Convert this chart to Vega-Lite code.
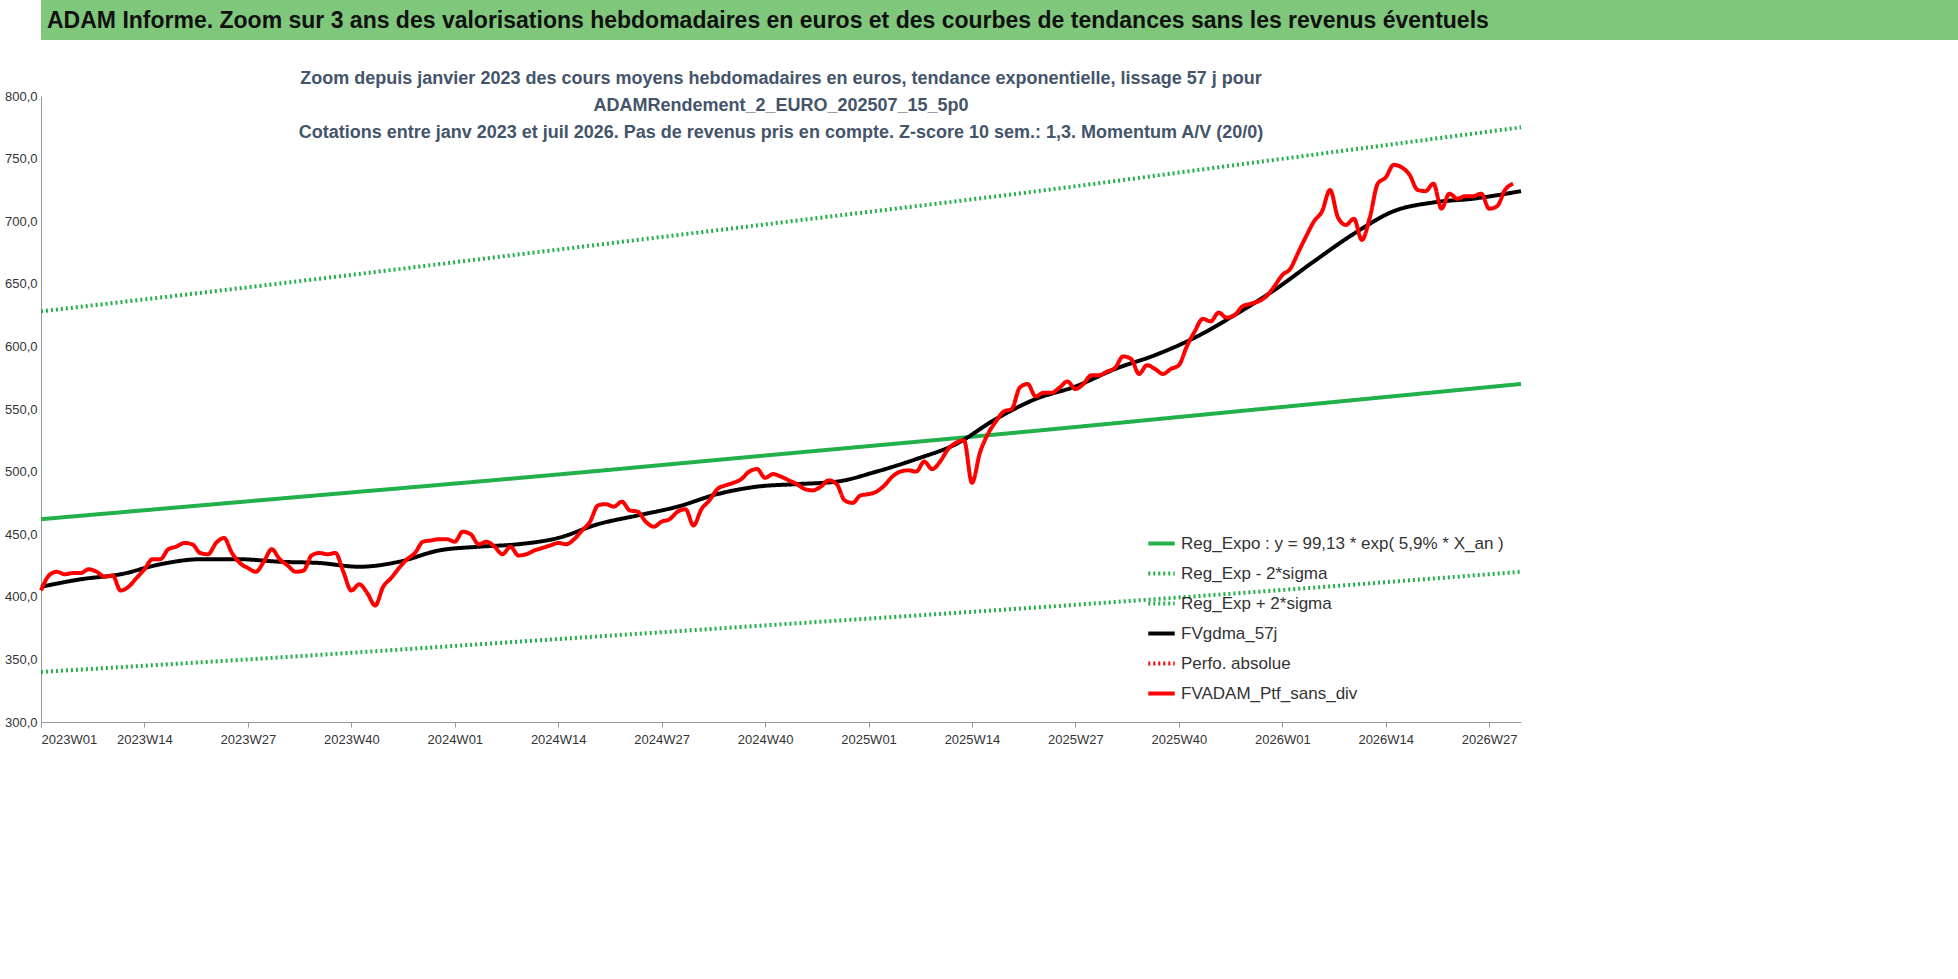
{
"$schema":"https://vega.github.io/schema/vega-lite/v6.json",
"background":"white",
"padding":{"left":4,"top":0,"right":10,"bottom":5},
"config":{"font":"Liberation Sans Narrow, Liberation Sans","view":{"stroke":null},"concat":{"spacing":30}},
"vconcat":[
{"width":1920,"height":40,"view":{"fill":"#7fc77a","stroke":null},
 "data":{"values":[{"t":"ADAM Informe. Zoom sur 3 ans des valorisations hebdomadaires en euros et des courbes de tendances sans les revenus éventuels"}]},
 "mark":{"type":"text","align":"left","baseline":"middle","fontSize":23,"fontWeight":"bold","color":"#111"},
 "encoding":{"text":{"field":"t"},"x":{"value":6},"y":{"value":21}}},
{"width":1480,"height":626,
 "title":{"text":["Zoom depuis janvier 2023 des cours moyens hebdomadaires  en euros, tendance exponentielle, lissage 57 j pour","ADAMRendement_2_EURO_202507_15_5p0","Cotations  entre janv 2023 et juil 2026. Pas de revenus pris en compte. Z-score 10 sem.: 1,3. Momentum  A/V (20/0)"],"fontSize":18,"fontWeight":"bold","color":"#44546a","lineHeight":27,"offset":-52,"anchor":"middle"},
 "data":{"values":[
 {"w":0,"s":"Reg_Expo : y = 99,13 * exp( 5,9% *  X_an )","v":462},{"w":31,"s":"Reg_Expo : y = 99,13 * exp( 5,9% *  X_an )","v":479},{"w":62,"s":"Reg_Expo : y = 99,13 * exp( 5,9% *  X_an )","v":496},{"w":93,"s":"Reg_Expo : y = 99,13 * exp( 5,9% *  X_an )","v":514},{"w":124,"s":"Reg_Expo : y = 99,13 * exp( 5,9% *  X_an )","v":532},{"w":155,"s":"Reg_Expo : y = 99,13 * exp( 5,9% *  X_an )","v":551},{"w":186,"s":"Reg_Expo : y = 99,13 * exp( 5,9% *  X_an )","v":570},
 {"w":0,"s":"Reg_Exp - 2*sigma","v":340},{"w":31,"s":"Reg_Exp - 2*sigma","v":352},{"w":62,"s":"Reg_Exp - 2*sigma","v":365},{"w":93,"s":"Reg_Exp - 2*sigma","v":378},{"w":124,"s":"Reg_Exp - 2*sigma","v":391},{"w":155,"s":"Reg_Exp - 2*sigma","v":405},{"w":186,"s":"Reg_Exp - 2*sigma","v":420},
 {"w":0,"s":"Reg_Exp + 2*sigma","v":628},{"w":31,"s":"Reg_Exp + 2*sigma","v":651},{"w":62,"s":"Reg_Exp + 2*sigma","v":675},{"w":93,"s":"Reg_Exp + 2*sigma","v":699},{"w":124,"s":"Reg_Exp + 2*sigma","v":723},{"w":155,"s":"Reg_Exp + 2*sigma","v":749},{"w":186,"s":"Reg_Exp + 2*sigma","v":775},
 {"w":0,"s":"FVgdma_57j","v":408},{"w":5,"s":"FVgdma_57j","v":414},{"w":10,"s":"FVgdma_57j","v":418},{"w":15,"s":"FVgdma_57j","v":426},{"w":20,"s":"FVgdma_57j","v":430},{"w":25,"s":"FVgdma_57j","v":430},{"w":30,"s":"FVgdma_57j","v":428},{"w":35,"s":"FVgdma_57j","v":427},{"w":40,"s":"FVgdma_57j","v":424},{"w":45,"s":"FVgdma_57j","v":428},{"w":50,"s":"FVgdma_57j","v":437},{"w":55,"s":"FVgdma_57j","v":440},{"w":60,"s":"FVgdma_57j","v":442},{"w":65,"s":"FVgdma_57j","v":447},{"w":70,"s":"FVgdma_57j","v":458},{"w":75,"s":"FVgdma_57j","v":465},{"w":80,"s":"FVgdma_57j","v":472},{"w":85,"s":"FVgdma_57j","v":482},{"w":90,"s":"FVgdma_57j","v":488},{"w":95,"s":"FVgdma_57j","v":490},{"w":100,"s":"FVgdma_57j","v":492},{"w":105,"s":"FVgdma_57j","v":500},{"w":110,"s":"FVgdma_57j","v":510},{"w":115,"s":"FVgdma_57j","v":522},{"w":120,"s":"FVgdma_57j","v":542},{"w":125,"s":"FVgdma_57j","v":558},{"w":130,"s":"FVgdma_57j","v":568},{"w":135,"s":"FVgdma_57j","v":582},{"w":140,"s":"FVgdma_57j","v":593},{"w":145,"s":"FVgdma_57j","v":607},{"w":150,"s":"FVgdma_57j","v":625},{"w":155,"s":"FVgdma_57j","v":645},{"w":160,"s":"FVgdma_57j","v":668},{"w":165,"s":"FVgdma_57j","v":690},{"w":170,"s":"FVgdma_57j","v":708},{"w":175,"s":"FVgdma_57j","v":715},{"w":180,"s":"FVgdma_57j","v":718},{"w":186,"s":"FVgdma_57j","v":724},
 {"w":0,"s":"FVADAM_Ptf_sans_div","v":405},{"w":1,"s":"FVADAM_Ptf_sans_div","v":417},{"w":2,"s":"FVADAM_Ptf_sans_div","v":420},{"w":3,"s":"FVADAM_Ptf_sans_div","v":418},{"w":4,"s":"FVADAM_Ptf_sans_div","v":419},{"w":5,"s":"FVADAM_Ptf_sans_div","v":419},{"w":6,"s":"FVADAM_Ptf_sans_div","v":422},{"w":7,"s":"FVADAM_Ptf_sans_div","v":420},{"w":8,"s":"FVADAM_Ptf_sans_div","v":416},{"w":9,"s":"FVADAM_Ptf_sans_div","v":417},{"w":10,"s":"FVADAM_Ptf_sans_div","v":405},{"w":11,"s":"FVADAM_Ptf_sans_div","v":408},{"w":12,"s":"FVADAM_Ptf_sans_div","v":415},{"w":13,"s":"FVADAM_Ptf_sans_div","v":422},{"w":14,"s":"FVADAM_Ptf_sans_div","v":430},{"w":15,"s":"FVADAM_Ptf_sans_div","v":430},{"w":16,"s":"FVADAM_Ptf_sans_div","v":438},{"w":17,"s":"FVADAM_Ptf_sans_div","v":440},{"w":18,"s":"FVADAM_Ptf_sans_div","v":443},{"w":19,"s":"FVADAM_Ptf_sans_div","v":442},{"w":20,"s":"FVADAM_Ptf_sans_div","v":435},{"w":21,"s":"FVADAM_Ptf_sans_div","v":434},{"w":22,"s":"FVADAM_Ptf_sans_div","v":443},{"w":23,"s":"FVADAM_Ptf_sans_div","v":447},{"w":24,"s":"FVADAM_Ptf_sans_div","v":435},{"w":25,"s":"FVADAM_Ptf_sans_div","v":427},{"w":26,"s":"FVADAM_Ptf_sans_div","v":423},{"w":27,"s":"FVADAM_Ptf_sans_div","v":420},{"w":28,"s":"FVADAM_Ptf_sans_div","v":428},{"w":29,"s":"FVADAM_Ptf_sans_div","v":438},{"w":30,"s":"FVADAM_Ptf_sans_div","v":430},{"w":31,"s":"FVADAM_Ptf_sans_div","v":425},{"w":32,"s":"FVADAM_Ptf_sans_div","v":420},{"w":33,"s":"FVADAM_Ptf_sans_div","v":421},{"w":34,"s":"FVADAM_Ptf_sans_div","v":433},{"w":35,"s":"FVADAM_Ptf_sans_div","v":435},{"w":36,"s":"FVADAM_Ptf_sans_div","v":434},{"w":37,"s":"FVADAM_Ptf_sans_div","v":435},{"w":38,"s":"FVADAM_Ptf_sans_div","v":420},{"w":39,"s":"FVADAM_Ptf_sans_div","v":405},{"w":40,"s":"FVADAM_Ptf_sans_div","v":410},{"w":41,"s":"FVADAM_Ptf_sans_div","v":403},{"w":42,"s":"FVADAM_Ptf_sans_div","v":393},{"w":43,"s":"FVADAM_Ptf_sans_div","v":408},{"w":44,"s":"FVADAM_Ptf_sans_div","v":415},{"w":45,"s":"FVADAM_Ptf_sans_div","v":423},{"w":46,"s":"FVADAM_Ptf_sans_div","v":430},{"w":47,"s":"FVADAM_Ptf_sans_div","v":435},{"w":48,"s":"FVADAM_Ptf_sans_div","v":444},{"w":49,"s":"FVADAM_Ptf_sans_div","v":445},{"w":50,"s":"FVADAM_Ptf_sans_div","v":446},{"w":51,"s":"FVADAM_Ptf_sans_div","v":446},{"w":52,"s":"FVADAM_Ptf_sans_div","v":444},{"w":53,"s":"FVADAM_Ptf_sans_div","v":452},{"w":54,"s":"FVADAM_Ptf_sans_div","v":450},{"w":55,"s":"FVADAM_Ptf_sans_div","v":442},{"w":56,"s":"FVADAM_Ptf_sans_div","v":444},{"w":57,"s":"FVADAM_Ptf_sans_div","v":440},{"w":58,"s":"FVADAM_Ptf_sans_div","v":434},{"w":59,"s":"FVADAM_Ptf_sans_div","v":440},{"w":60,"s":"FVADAM_Ptf_sans_div","v":433},{"w":61,"s":"FVADAM_Ptf_sans_div","v":434},{"w":62,"s":"FVADAM_Ptf_sans_div","v":437},{"w":63,"s":"FVADAM_Ptf_sans_div","v":439},{"w":64,"s":"FVADAM_Ptf_sans_div","v":441},{"w":65,"s":"FVADAM_Ptf_sans_div","v":443},{"w":66,"s":"FVADAM_Ptf_sans_div","v":442},{"w":67,"s":"FVADAM_Ptf_sans_div","v":446},{"w":68,"s":"FVADAM_Ptf_sans_div","v":453},{"w":69,"s":"FVADAM_Ptf_sans_div","v":460},{"w":70,"s":"FVADAM_Ptf_sans_div","v":473},{"w":71,"s":"FVADAM_Ptf_sans_div","v":474},{"w":72,"s":"FVADAM_Ptf_sans_div","v":472},{"w":73,"s":"FVADAM_Ptf_sans_div","v":476},{"w":74,"s":"FVADAM_Ptf_sans_div","v":469},{"w":75,"s":"FVADAM_Ptf_sans_div","v":468},{"w":76,"s":"FVADAM_Ptf_sans_div","v":460},{"w":77,"s":"FVADAM_Ptf_sans_div","v":456},{"w":78,"s":"FVADAM_Ptf_sans_div","v":460},{"w":79,"s":"FVADAM_Ptf_sans_div","v":462},{"w":80,"s":"FVADAM_Ptf_sans_div","v":468},{"w":81,"s":"FVADAM_Ptf_sans_div","v":470},{"w":82,"s":"FVADAM_Ptf_sans_div","v":457},{"w":83,"s":"FVADAM_Ptf_sans_div","v":470},{"w":84,"s":"FVADAM_Ptf_sans_div","v":477},{"w":85,"s":"FVADAM_Ptf_sans_div","v":486},{"w":86,"s":"FVADAM_Ptf_sans_div","v":489},{"w":87,"s":"FVADAM_Ptf_sans_div","v":491},{"w":88,"s":"FVADAM_Ptf_sans_div","v":494},{"w":89,"s":"FVADAM_Ptf_sans_div","v":500},{"w":90,"s":"FVADAM_Ptf_sans_div","v":502},{"w":91,"s":"FVADAM_Ptf_sans_div","v":495},{"w":92,"s":"FVADAM_Ptf_sans_div","v":498},{"w":93,"s":"FVADAM_Ptf_sans_div","v":496},{"w":94,"s":"FVADAM_Ptf_sans_div","v":493},{"w":95,"s":"FVADAM_Ptf_sans_div","v":490},{"w":96,"s":"FVADAM_Ptf_sans_div","v":486},{"w":97,"s":"FVADAM_Ptf_sans_div","v":485},{"w":98,"s":"FVADAM_Ptf_sans_div","v":488},{"w":99,"s":"FVADAM_Ptf_sans_div","v":493},{"w":100,"s":"FVADAM_Ptf_sans_div","v":490},{"w":101,"s":"FVADAM_Ptf_sans_div","v":477},{"w":102,"s":"FVADAM_Ptf_sans_div","v":475},{"w":103,"s":"FVADAM_Ptf_sans_div","v":481},{"w":104,"s":"FVADAM_Ptf_sans_div","v":482},{"w":105,"s":"FVADAM_Ptf_sans_div","v":484},{"w":106,"s":"FVADAM_Ptf_sans_div","v":489},{"w":107,"s":"FVADAM_Ptf_sans_div","v":496},{"w":108,"s":"FVADAM_Ptf_sans_div","v":500},{"w":109,"s":"FVADAM_Ptf_sans_div","v":501},{"w":110,"s":"FVADAM_Ptf_sans_div","v":500},{"w":111,"s":"FVADAM_Ptf_sans_div","v":508},{"w":112,"s":"FVADAM_Ptf_sans_div","v":502},{"w":113,"s":"FVADAM_Ptf_sans_div","v":508},{"w":114,"s":"FVADAM_Ptf_sans_div","v":518},{"w":115,"s":"FVADAM_Ptf_sans_div","v":523},{"w":116,"s":"FVADAM_Ptf_sans_div","v":525},{"w":117,"s":"FVADAM_Ptf_sans_div","v":491},{"w":118,"s":"FVADAM_Ptf_sans_div","v":515},{"w":119,"s":"FVADAM_Ptf_sans_div","v":530},{"w":120,"s":"FVADAM_Ptf_sans_div","v":540},{"w":121,"s":"FVADAM_Ptf_sans_div","v":548},{"w":122,"s":"FVADAM_Ptf_sans_div","v":550},{"w":123,"s":"FVADAM_Ptf_sans_div","v":567},{"w":124,"s":"FVADAM_Ptf_sans_div","v":570},{"w":125,"s":"FVADAM_Ptf_sans_div","v":560},{"w":126,"s":"FVADAM_Ptf_sans_div","v":563},{"w":127,"s":"FVADAM_Ptf_sans_div","v":563},{"w":128,"s":"FVADAM_Ptf_sans_div","v":567},{"w":129,"s":"FVADAM_Ptf_sans_div","v":572},{"w":130,"s":"FVADAM_Ptf_sans_div","v":566},{"w":131,"s":"FVADAM_Ptf_sans_div","v":570},{"w":132,"s":"FVADAM_Ptf_sans_div","v":577},{"w":133,"s":"FVADAM_Ptf_sans_div","v":577},{"w":134,"s":"FVADAM_Ptf_sans_div","v":580},{"w":135,"s":"FVADAM_Ptf_sans_div","v":583},{"w":136,"s":"FVADAM_Ptf_sans_div","v":592},{"w":137,"s":"FVADAM_Ptf_sans_div","v":590},{"w":138,"s":"FVADAM_Ptf_sans_div","v":578},{"w":139,"s":"FVADAM_Ptf_sans_div","v":585},{"w":140,"s":"FVADAM_Ptf_sans_div","v":582},{"w":141,"s":"FVADAM_Ptf_sans_div","v":578},{"w":142,"s":"FVADAM_Ptf_sans_div","v":582},{"w":143,"s":"FVADAM_Ptf_sans_div","v":585},{"w":144,"s":"FVADAM_Ptf_sans_div","v":600},{"w":145,"s":"FVADAM_Ptf_sans_div","v":612},{"w":146,"s":"FVADAM_Ptf_sans_div","v":622},{"w":147,"s":"FVADAM_Ptf_sans_div","v":620},{"w":148,"s":"FVADAM_Ptf_sans_div","v":627},{"w":149,"s":"FVADAM_Ptf_sans_div","v":623},{"w":150,"s":"FVADAM_Ptf_sans_div","v":625},{"w":151,"s":"FVADAM_Ptf_sans_div","v":632},{"w":152,"s":"FVADAM_Ptf_sans_div","v":634},{"w":153,"s":"FVADAM_Ptf_sans_div","v":636},{"w":154,"s":"FVADAM_Ptf_sans_div","v":640},{"w":155,"s":"FVADAM_Ptf_sans_div","v":648},{"w":156,"s":"FVADAM_Ptf_sans_div","v":657},{"w":157,"s":"FVADAM_Ptf_sans_div","v":662},{"w":158,"s":"FVADAM_Ptf_sans_div","v":675},{"w":159,"s":"FVADAM_Ptf_sans_div","v":688},{"w":160,"s":"FVADAM_Ptf_sans_div","v":700},{"w":161,"s":"FVADAM_Ptf_sans_div","v":708},{"w":162,"s":"FVADAM_Ptf_sans_div","v":725},{"w":163,"s":"FVADAM_Ptf_sans_div","v":703},{"w":164,"s":"FVADAM_Ptf_sans_div","v":697},{"w":165,"s":"FVADAM_Ptf_sans_div","v":702},{"w":166,"s":"FVADAM_Ptf_sans_div","v":685},{"w":167,"s":"FVADAM_Ptf_sans_div","v":703},{"w":168,"s":"FVADAM_Ptf_sans_div","v":730},{"w":169,"s":"FVADAM_Ptf_sans_div","v":735},{"w":170,"s":"FVADAM_Ptf_sans_div","v":745},{"w":171,"s":"FVADAM_Ptf_sans_div","v":743},{"w":172,"s":"FVADAM_Ptf_sans_div","v":737},{"w":173,"s":"FVADAM_Ptf_sans_div","v":725},{"w":174,"s":"FVADAM_Ptf_sans_div","v":724},{"w":175,"s":"FVADAM_Ptf_sans_div","v":730},{"w":176,"s":"FVADAM_Ptf_sans_div","v":710},{"w":177,"s":"FVADAM_Ptf_sans_div","v":722},{"w":178,"s":"FVADAM_Ptf_sans_div","v":718},{"w":179,"s":"FVADAM_Ptf_sans_div","v":720},{"w":180,"s":"FVADAM_Ptf_sans_div","v":720},{"w":181,"s":"FVADAM_Ptf_sans_div","v":722},{"w":182,"s":"FVADAM_Ptf_sans_div","v":710},{"w":183,"s":"FVADAM_Ptf_sans_div","v":712},{"w":184,"s":"FVADAM_Ptf_sans_div","v":725},{"w":185,"s":"FVADAM_Ptf_sans_div","v":730}
 ]},
 "mark":{"type":"line","interpolate":"monotone"},
 "encoding":{
  "x":{"field":"w","type":"quantitative","scale":{"domain":[0,186],"nice":false,"zero":false},
   "axis":{"title":null,"values":[0,13,26,39,52,65,78,91,104,117,130,143,156,169,182],"labelExpr":"(2023+floor(datum.value/52)) + 'W' + (datum.value%52+1<10?'0':'') + (datum.value%52+1)","labelFontSize":13,"labelColor":"#333","grid":false,"domainColor":"#999","tickColor":"#999","ticks":true,"tickSize":5,"labelPadding":6}},
  "y":{"field":"v","type":"quantitative","scale":{"domain":[300,800],"nice":false,"zero":false},
   "axis":{"title":null,"values":[300,350,400,450,500,550,600,650,700,750,800],"labelExpr":"replace(format(datum.value,'.1f'),'.',',')","labelFontSize":13,"labelColor":"#333","grid":false,"domainColor":"#999","ticks":false,"labelPadding":4}},
  "color":{"field":"s","type":"nominal","scale":{"domain":["Reg_Expo : y = 99,13 * exp( 5,9% *  X_an )","Reg_Exp - 2*sigma","Reg_Exp + 2*sigma","FVgdma_57j","Perfo. absolue","FVADAM_Ptf_sans_div"],"range":["#22b04b","#22b04b","#22b04b","#000000","#ff0000","#ff0000"]},
   "legend":{"title":null,"orient":"none","legendX":1105,"legendY":528,"symbolType":"stroke","symbolSize":700,"symbolStrokeWidth":4,"labelFontSize":17,"labelColor":"#333","rowPadding":6,"labelLimit":400}},
  "strokeDash":{"field":"s","type":"nominal","scale":{"domain":["Reg_Expo : y = 99,13 * exp( 5,9% *  X_an )","Reg_Exp - 2*sigma","Reg_Exp + 2*sigma","FVgdma_57j","Perfo. absolue","FVADAM_Ptf_sans_div"],"range":[[1,0],[2,3],[2,3],[1,0],[2,3],[1,0]]},"legend":null},
  "strokeWidth":{"value":4}
 }}
]}
